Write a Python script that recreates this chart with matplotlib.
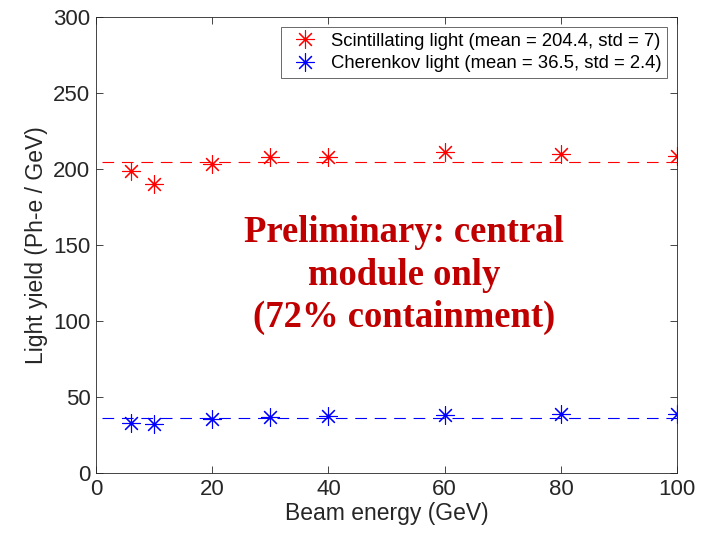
import matplotlib
matplotlib.use('Agg')
import matplotlib.pyplot as plt
import numpy as np

energy = [6, 10, 20, 30, 40, 60, 80, 100]
scint = [198.7, 190.0, 203.3, 207.9, 207.9, 211.2, 209.9, 208.6]
cher = [32.9, 32.2, 35.5, 36.8, 37.5, 38.2, 38.8, 38.8]
scint_mean, scint_std = 204.4, 7
cher_mean, cher_std = 36.5, 2.4
mean_x = [1, 100]

plt.rcParams['font.family'] = ['Liberation Sans', 'DejaVu Sans']

fig = plt.figure(figsize=(7.09, 5.35), dpi=100)
ax = fig.add_axes([0.1354, 0.1159, 0.8196, 0.8523])

star = (8, 2, 0)
ax.plot(energy, scint, ls='none', marker=star, ms=13, mew=0.8, color='#ff0000',
        label='Scintillating light (mean = %g, std = %g)' % (scint_mean, scint_std))
ax.plot(energy, cher, ls='none', marker=star, ms=13, mew=0.8, color='#0000ff',
        label='Cherenkov light (mean = %g, std = %g)' % (cher_mean, cher_std))
ax.plot(mean_x, [scint_mean] * 2, color='#ff0000', lw=0.8, dashes=(10.5, 7))
ax.plot(mean_x, [cher_mean] * 2, color='#0000ff', lw=0.8, dashes=(10.5, 7))

ax.set_xlim(0, 100)
ax.set_ylim(0, 300)
ax.set_xticks(np.arange(0, 101, 20))
ax.set_yticks(np.arange(0, 301, 50))
ax.tick_params(direction='in', length=5, width=0.6, colors='#262626', labelsize=16,
               top=True, right=True, pad=4)
for s in ax.spines.values():
    s.set_color('#262626')
    s.set_linewidth(0.6)
ax.set_xlabel('Beam energy (GeV)', fontsize=16.5, color='#262626', labelpad=2)
ax.set_ylabel('Light yield (Ph-e / GeV)', fontsize=16.5, color='#262626', labelpad=4)

leg = ax.legend(loc='upper right', fontsize=13.3, frameon=True, fancybox=False,
                edgecolor='#262626', borderaxespad=0.55, handletextpad=0.4,
                borderpad=0.29, labelspacing=0.31, handlelength=2.0)
leg.get_frame().set_linewidth(0.6)

ax.text(0.53, 0.434, 'Preliminary: central\nmodule only\n(72% containment)',
        transform=ax.transAxes, ha='center', va='center', fontsize=26.4,
        fontweight='bold', color='#c00000', family=['Liberation Serif'],
        linespacing=1.28)

fig.savefig('out.png', dpi=100)
